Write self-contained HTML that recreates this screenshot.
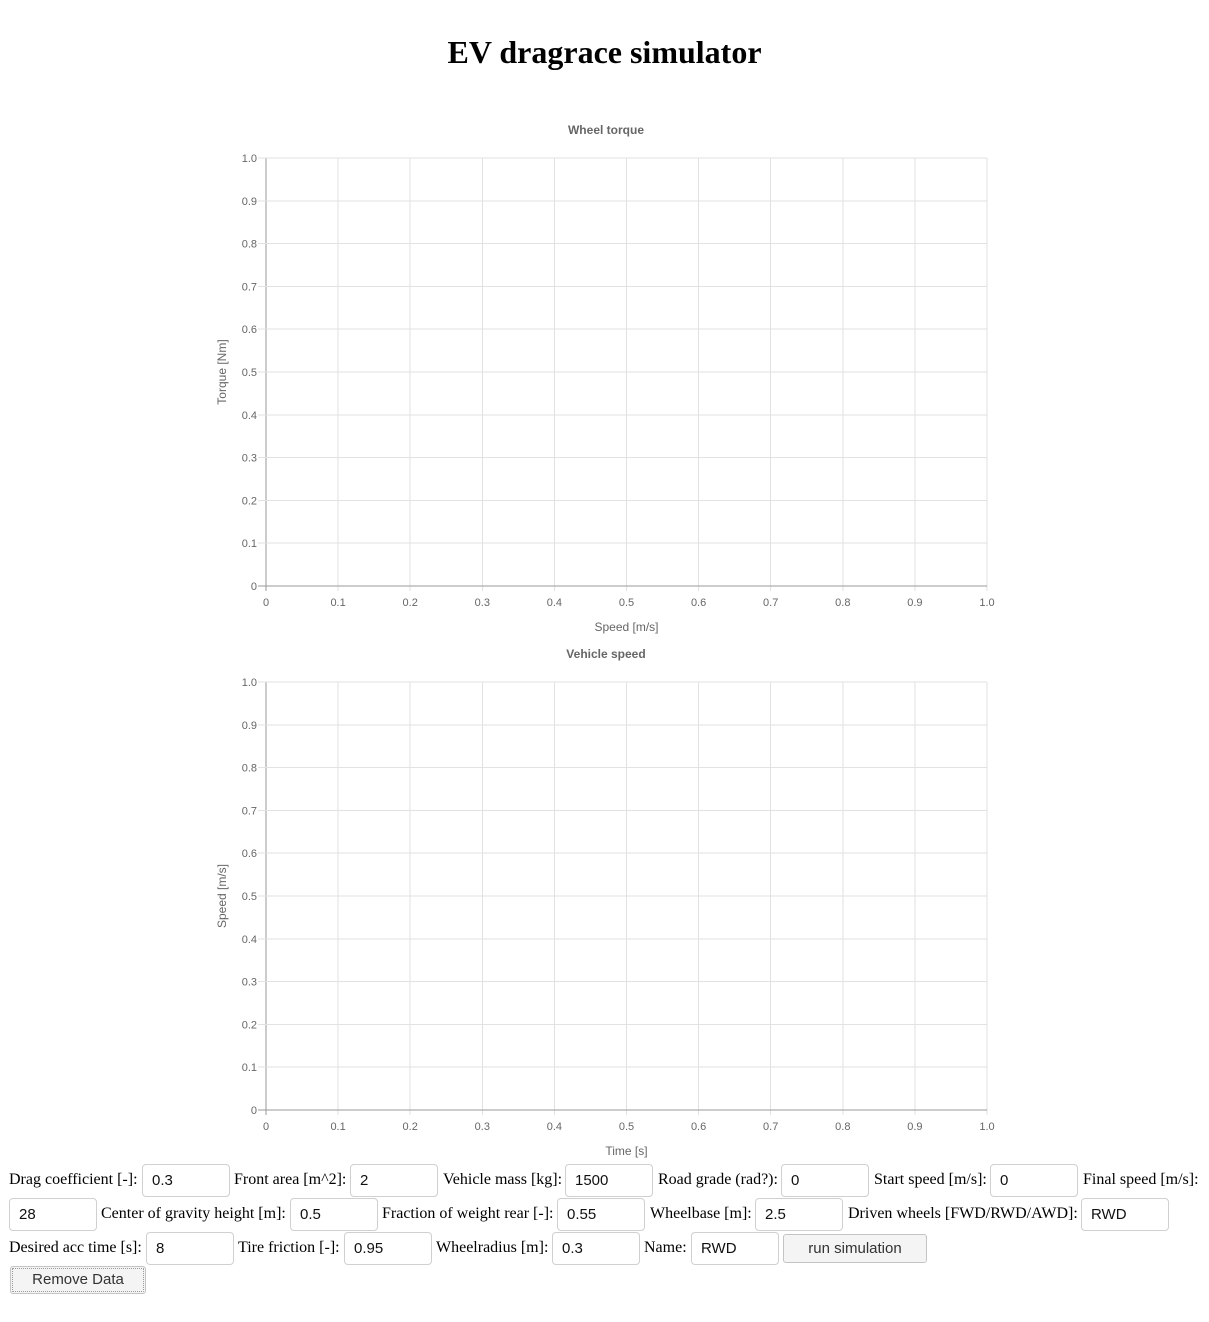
<!DOCTYPE html>
<html><head><meta charset="utf-8">
<style>
body{margin:0;width:1209px;height:1322px;background:#fff;position:relative;overflow:hidden;font-family:"Liberation Serif",serif;}
h1{position:absolute;left:0;width:1209px;top:33px;margin:0;text-align:center;font-size:32px;font-weight:bold;line-height:38px;}
.l{position:absolute;font-size:16px;line-height:20px;white-space:nowrap;color:#000;}
.i{position:absolute;box-sizing:border-box;width:88px;height:33px;border:1px solid #d0d0d0;border-radius:4px;font-family:"Liberation Sans",sans-serif;font-size:15px;padding:0 0 0 9px;line-height:31px;color:#111;background:#fff;}
.b{position:absolute;box-sizing:border-box;border:1px solid #c4c4c4;border-radius:3px;background:#f4f4f4;font-family:"Liberation Sans",sans-serif;font-size:15px;color:#333;text-align:center;}
svg text{font-family:"Liberation Sans",sans-serif;}
</style></head><body>
<h1>EV dragrace simulator</h1>
<svg id="c" width="1209" height="1160" style="position:absolute;left:0;top:0"></svg>

<span class="l" style="left:9px;top:1170px">Drag coefficient [-]:</span>
<div class="i" style="left:142px;top:1164px">0.3</div>
<span class="l" style="left:234px;top:1170px">Front area [m^2]:</span>
<div class="i" style="left:350px;top:1164px">2</div>
<span class="l" style="left:443px;top:1170px">Vehicle mass [kg]:</span>
<div class="i" style="left:565px;top:1164px">1500</div>
<span class="l" style="left:658px;top:1170px">Road grade (rad?):</span>
<div class="i" style="left:781px;top:1164px">0</div>
<span class="l" style="left:874px;top:1170px">Start speed [m/s]:</span>
<div class="i" style="left:990px;top:1164px">0</div>
<span class="l" style="left:1083px;top:1170px">Final speed [m/s]:</span>

<div class="i" style="left:9px;top:1198px">28</div>
<span class="l" style="left:101px;top:1204px">Center of gravity height [m]:</span>
<div class="i" style="left:290px;top:1198px">0.5</div>
<span class="l" style="left:382px;top:1204px">Fraction of weight rear [-]:</span>
<div class="i" style="left:557px;top:1198px">0.55</div>
<span class="l" style="left:650px;top:1204px">Wheelbase [m]:</span>
<div class="i" style="left:755px;top:1198px">2.5</div>
<span class="l" style="left:848px;top:1204px">Driven wheels [FWD/RWD/AWD]:</span>
<div class="i" style="left:1081px;top:1198px">RWD</div>

<span class="l" style="left:9px;top:1238px">Desired acc time [s]:</span>
<div class="i" style="left:146px;top:1232px">8</div>
<span class="l" style="left:238px;top:1238px">Tire friction [-]:</span>
<div class="i" style="left:344px;top:1232px">0.95</div>
<span class="l" style="left:436px;top:1238px">Wheelradius [m]:</span>
<div class="i" style="left:552px;top:1232px">0.3</div>
<span class="l" style="left:644px;top:1238px">Name:</span>
<div class="i" style="left:691px;top:1232px">RWD</div>
<div class="b" style="left:783px;top:1234px;width:144px;height:29px;line-height:27px">run simulation</div>
<div class="b" style="left:10px;top:1266px;width:136px;height:28px;line-height:26px;outline:1px dotted #999;outline-offset:-3px">Remove Data</div>

<script>
const xTicks=[0,0.1,0.2,0.3,0.4,0.5,0.6,0.7,0.8,0.9,1.0];
const yTicks=[0,0.1,0.2,0.3,0.4,0.5,0.6,0.7,0.8,0.9,1.0];
const xTickLabels=["0","0.1","0.2","0.3","0.4","0.5","0.6","0.7","0.8","0.9","1.0"];
const yTickLabels=["0","0.1","0.2","0.3","0.4","0.5","0.6","0.7","0.8","0.9","1.0"];
const chartTitles=["Wheel torque","Vehicle speed"];
const xTitles=["Speed [m/s]","Time [s]"];
const yTitles=["Torque [Nm]","Speed [m/s]"];
const NS="http://www.w3.org/2000/svg";
const svg=document.getElementById('c');
function mk(tag,a,txt){const e=document.createElementNS(NS,tag);for(const k in a)e.setAttribute(k,a[k]);if(txt!==undefined)e.textContent=txt;svg.appendChild(e);return e;}
const L=266,R=987;
const tops=[158,682];
tops.forEach((T,ci)=>{
  const B=T+428;
  const xs=v=>L+(v-0)/(1-0)*(R-L);
  const ys=v=>B-(v-0)/(1-0)*(B-T);
  let e=mk('text',{x:606,y:T-24,'text-anchor':'middle','font-size':12,'font-weight':'bold',fill:'#666'},chartTitles[ci]);
  
  
  xTicks.forEach((v,i)=>{
    const x=xs(v);
    e=mk('line',{x1:x,x2:x,y1:T,y2:B+5,stroke:i===0?'#999':'#e2e2e2','stroke-width':1,'shape-rendering':'crispEdges'});
    
    
    e=mk('text',{x:x,y:B+20,'text-anchor':'middle','font-size':11,fill:'#666'},xTickLabels[i]);
    
    
  });
  yTicks.forEach((v,i)=>{
    const y=ys(v);
    e=mk('line',{x1:L-8,x2:R,y1:y,y2:y,stroke:i===0?'#999':'#e2e2e2','stroke-width':1,'shape-rendering':'crispEdges'});
    
    
    e=mk('text',{x:L-9,y:y+4,'text-anchor':'end','font-size':11,fill:'#666'},yTickLabels[i]);
    
    
  });
  e=mk('text',{x:(L+R)/2,y:B+45,'text-anchor':'middle','font-size':12,fill:'#666'},xTitles[ci]);
  
  
  const cy=(T+B)/2;
  e=mk('text',{x:226,y:cy,'text-anchor':'middle','font-size':12,fill:'#666',transform:`rotate(-90 226 ${cy})`},yTitles[ci]);
  
  
});
</script>
</body></html>
